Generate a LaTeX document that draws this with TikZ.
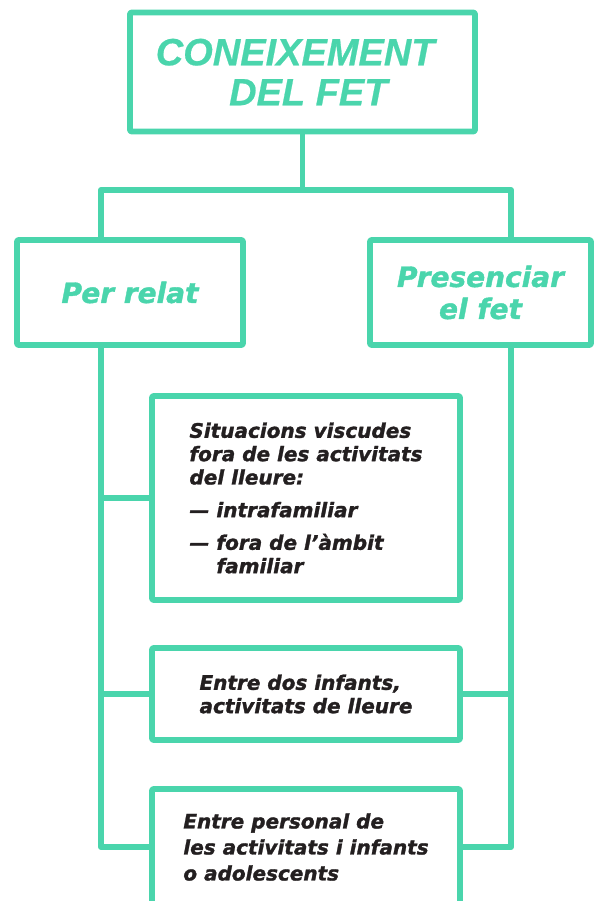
\documentclass[tikz,border=0pt]{standalone}
\usepackage{fontspec}
\usepackage{tikz}
\usetikzlibrary{positioning}
\newfontfamily\headfont{Liberation Sans}[BoldItalicFeatures={FakeBold=0.6}]
\newfontfamily\boxfont{DejaVu Sans}[BoldItalicFeatures={FakeBold=1.4}]
\definecolor{menta}{RGB}{74,213,172}
\definecolor{tinta}{RGB}{35,31,32}

\begin{document}
\begin{tikzpicture}[x=0.75pt, y=-0.75pt,
  link/.style={draw=menta, line width=4.4pt, line join=round},
  caixa/.style={draw=menta, line width=4.4pt, line join=round, rounded corners=1pt, inner sep=0pt, align=center},
  verda/.style={caixa, text=menta, font=\boxfont\bfseries\itshape\fontsize{21}{24}\selectfont},
  negra/.style={caixa, text=tinta, align=left, font=\boxfont\bfseries\itshape\fontsize{15}{17.5}\selectfont}]
\useasboundingbox (0,0) rectangle (595,901);
\clip (0,0) rectangle (595,901);
\node[caixa, text=menta, align=left, minimum width=258.75pt, minimum height=89.25pt,
  font=\headfont\bfseries\itshape\fontsize{28.5}{30}\selectfont] (fet) at (302.5,72)
  {CONEIXEMENT\hspace*{11pt}\\\hspace*{55pt}DEL FET};
\node[verda, minimum width=169.5pt, minimum height=78.75pt] (relat) at (130,292.5) {Per relat};
\node[verda, minimum width=165.75pt, minimum height=78.75pt] (presencia) at (480.5,292.5) {Presenciar\\el fet};
\node[negra, minimum width=231pt, minimum height=153pt] (situacions) at (306,498)
  {Situacions viscudes\\fora de les activitats\\del lleure:\\[7pt]
   — intrafamiliar\\[7pt]— fora de l’àmbit\\\hspace*{1.35em}familiar};
\node[negra, minimum width=231pt, minimum height=69pt] (dos) at (306,694)
  {Entre dos infants,\\activitats de lleure};
\node[negra, minimum width=231pt, minimum height=87pt,
  font=\boxfont\bfseries\itshape\fontsize{15}{19.5}\selectfont] (personal) at (306,847)
  {Entre personal de\\les activitats i infants\\o adolescents};
\coordinate (forkL) at (101,190);
\coordinate (forkR) at (511,190);
\draw[link] (fet.south) -- (fet.south |- forkL);
\draw[link] (relat.north -| forkL) -- (forkL) -- (forkR) -- (presencia.north -| forkR);
\draw[link] (relat.south -| forkL) |- (personal.west);
\draw[link] (presencia.south -| forkR) |- (personal.east);
\draw[link] (forkL |- situacions.west) -- (situacions.west);
\draw[link] (forkL |- dos.west) -- (dos.west);
\draw[link] (dos.east) -- (forkR |- dos.east);
\end{tikzpicture}
\end{document}
